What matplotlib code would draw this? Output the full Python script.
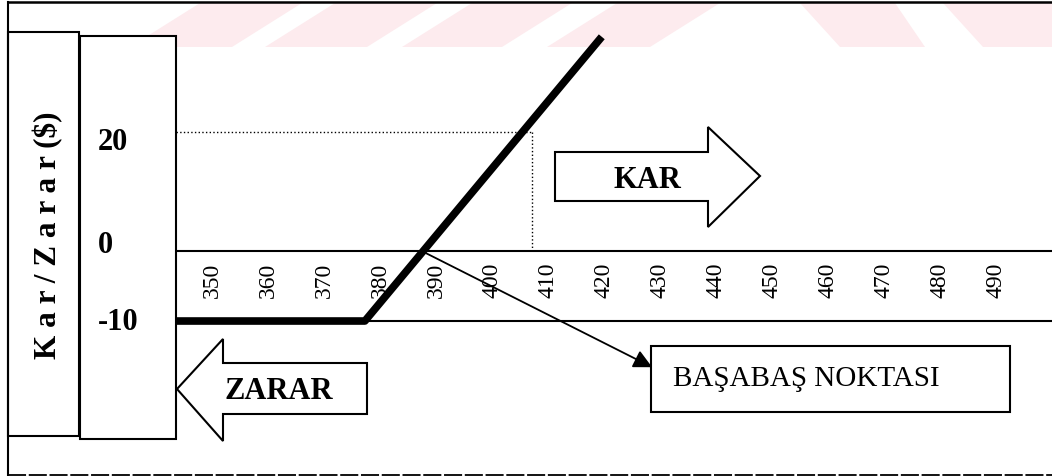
import matplotlib.pyplot as plt
from matplotlib.patches import Polygon
from matplotlib.lines import Line2D

plt.rcParams['font.family'] = ['Liberation Serif', 'DejaVu Serif']

# payoff of the position (price, profit)
price = [343.6, 377.3, 419.6]
profit = [-10, -10, 30.6]
x_ticks = [350, 360, 370, 380, 390, 400, 410, 420, 430, 440, 450, 460, 470, 480, 490]
y_labels = ['20', '0', '-10']
guide_x = 407.1
guide_y = 17

W, H = 1052, 477
fig = plt.figure(figsize=(W / 100, H / 100), dpi=100)
ax = fig.add_axes([0, 0, 1, 1])
ax.set_xlim(312.14, 500)
ax.set_ylim(-32.14, 36)
ax.axis('off')


def P(x, y):
    return (x / W, 1 - y / H)


def poly(pts, **kw):
    fig.add_artist(Polygon([P(x, y) for x, y in pts], closed=True,
                           transform=fig.transFigure, **kw))


def line(x0, y0, x1, y1, **kw):
    fig.add_artist(Line2D([x0 / W, x1 / W], [1 - y0 / H, 1 - y1 / H],
                          transform=fig.transFigure, color='black', **kw))


# faint watermark stripes at the top
pink = '#fdebee'
for b0, b1 in [(130, 232), (265, 367), (402, 502), (547, 650)]:
    poly([(b0, 48), (b1, 48), (b1 + 70, 4), (b0 + 70, 4)], facecolor=pink, edgecolor='none', zorder=0)
for b0, b1 in [(840, 925), (983, 1100)]:
    poly([(b0, 48), (b1, 48), (b1 - 30, 4), (b0 - 40, 4)], facecolor=pink, edgecolor='none', zorder=0)

# frame
line(8, 3, 1052, 3, lw=1.8)
line(8, 3, 8, 476, lw=1.5)
line(8, 476, 1052, 476, lw=1.3, ls=(0, (10, 1.5)))

# label boxes
poly([(8, 33), (79, 33), (79, 437), (8, 437)], facecolor='white', edgecolor='black', lw=1.5)
poly([(80, 37), (176, 37), (176, 440), (80, 440)], facecolor='white', edgecolor='black', lw=1.5)
fig.text(*P(48, 235), 'K a r / Z a r a r ($)', rotation=90, ha='center', va='center',
         fontsize=22.5, fontweight='bold')
for lab, yy in zip(y_labels, [142, 246, 323]):
    fig.text(*P(98, yy), lab, ha='left', va='center', fontsize=22, fontweight='bold')

# axis lines
x0 = 343.57
ax.plot([x0, 500], [0, 0], color='black', lw=1.5)
ax.plot([x0, 500], [-10, -10], color='black', lw=1.5)
for t in x_ticks:
    ax.text(t, -4.1, str(t), rotation=90, ha='center', va='center', fontsize=17)

# dotted guides
ax.plot([x0, guide_x], [guide_y, guide_y], color='black', lw=1, ls=':')
ax.plot([guide_x, guide_x], [guide_y, 0], color='black', lw=1, ls=':')

# payoff line
ax.plot(price, profit, color='black', lw=5.5, solid_capstyle='butt', zorder=5)

# KAR arrow
poly([(555, 153), (708, 153), (708, 128), (760, 177), (708, 228), (708, 202), (555, 202)],
     facecolor='white', edgecolor='black', lw=1.5)
fig.text(*P(647, 180), 'KAR', ha='center', va='center', fontsize=22, fontweight='bold')

# ZARAR arrow
poly([(177, 390), (223, 340), (223, 364), (367, 364), (367, 415), (223, 415), (223, 442)],
     facecolor='white', edgecolor='black', lw=1.5)
fig.text(*P(279, 392), 'ZARAR', ha='center', va='center', fontsize=22, fontweight='bold')

# break-even callout
poly([(651, 347), (1010, 347), (1010, 413), (651, 413)], facecolor='white', edgecolor='black', lw=1.5)
fig.text(*P(673, 379), 'BAŞABAŞ NOKTASI', ha='left', va='center', fontsize=21)
ax.annotate('', xy=(428.6, -16.6), xytext=(387.7, -0.1),
            arrowprops=dict(arrowstyle='-|>', color='black', lw=1.3, mutation_scale=28,
                            shrinkA=0, shrinkB=0))

fig.savefig('out.png', dpi=100)
